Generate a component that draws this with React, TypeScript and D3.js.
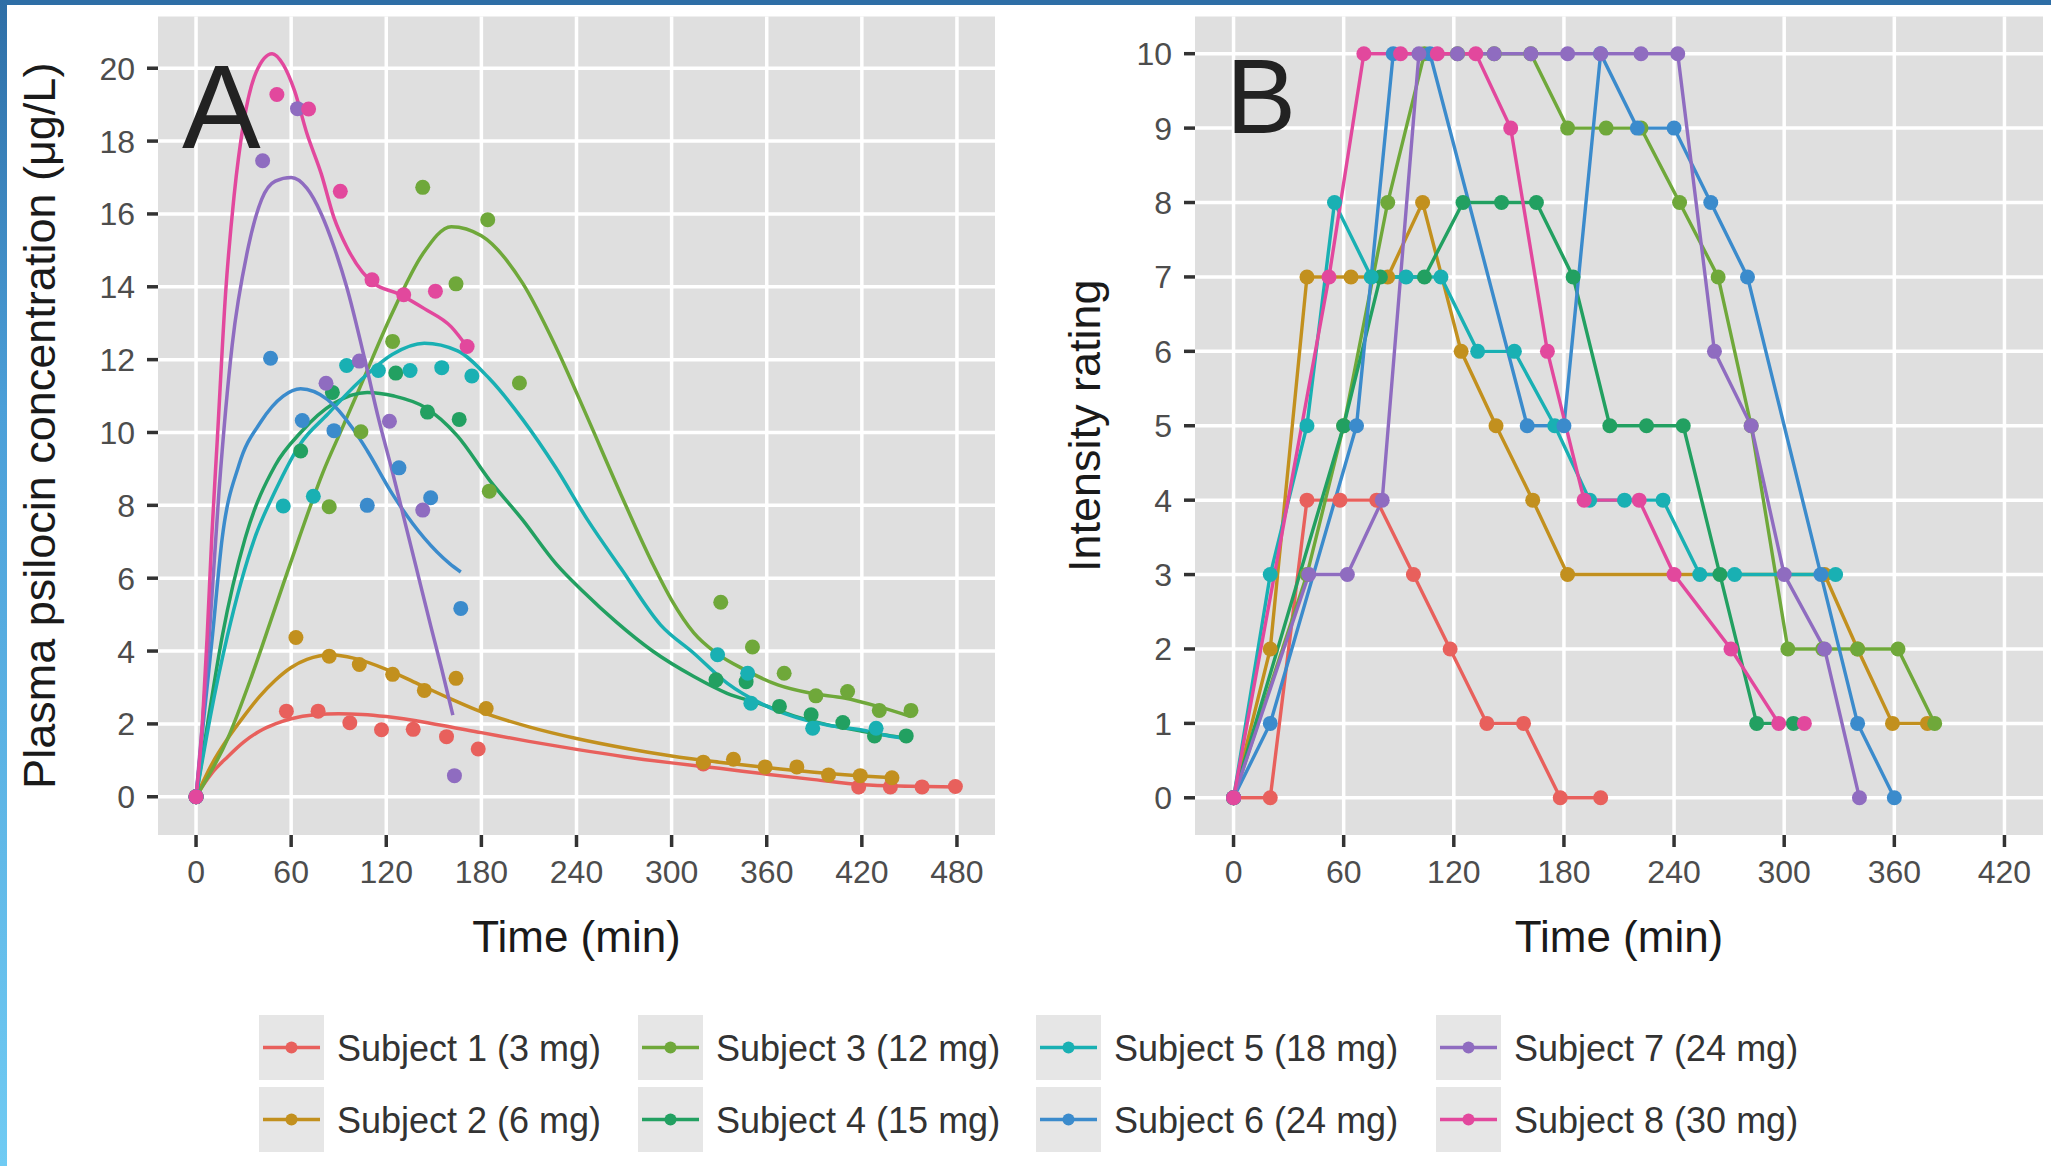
import * as d3 from 'd3'

const W = 2051
const H = 1166
const FONT = '"Liberation Sans", Arial, Helvetica, sans-serif'

type Pt = [number, number]

const subjects = [
  'Subject 1 (3 mg)', 'Subject 2 (6 mg)', 'Subject 3 (12 mg)', 'Subject 4 (15 mg)',
  'Subject 5 (18 mg)', 'Subject 6 (24 mg)', 'Subject 7 (24 mg)', 'Subject 8 (30 mg)',
]
const colors = ['#e8605c', '#c2901e', '#6fa83a', '#22a061', '#19b0b3', '#3b8bcc', '#8f6cc0', '#e2489d']

const xTicksA = [0, 60, 120, 180, 240, 300, 360, 420, 480]
const yTicksA = [0, 2, 4, 6, 8, 10, 12, 14, 16, 18, 20]
const xTicksB = [0, 60, 120, 180, 240, 300, 360, 420]
const yTicksB = [0, 1, 2, 3, 4, 5, 6, 7, 8, 9, 10]

// Panel A: measured plasma psilocin [min, µg/L]
const obs1: Pt[] = [[0, 0], [57, 2.35], [77, 2.35], [97, 2.03], [117, 1.84], [137, 1.85], [158, 1.65], [178, 1.31], [320, 0.9], [418, 0.27], [438, 0.27], [458, 0.27], [479, 0.28]]
const obs2: Pt[] = [[0, 0], [63, 4.37], [84, 3.86], [103, 3.63], [124, 3.36], [144, 2.92], [164, 3.25], [183, 2.42], [320, 0.95], [339, 1.03], [359, 0.82], [379, 0.82], [399, 0.6], [419, 0.58], [439, 0.52]]
const obs3: Pt[] = [[0, 0], [84, 7.96], [104, 10.02], [124, 12.5], [143, 16.73], [164, 14.08], [184, 15.84], [185, 8.39], [204, 11.36], [331, 5.34], [351, 4.11], [371, 3.39], [391, 2.77], [411, 2.89], [431, 2.37], [451, 2.37]]
const obs4: Pt[] = [[0, 0], [66, 9.49], [86, 11.1], [126, 11.63], [146, 10.56], [166, 10.36], [328, 3.21], [347, 3.16], [368, 2.48], [388, 2.25], [408, 2.04], [428, 1.67], [448, 1.67]]
const obs5: Pt[] = [[0, 0], [55, 7.98], [74, 8.25], [95, 11.84], [115, 11.7], [135, 11.7], [155, 11.78], [174, 11.55], [329, 3.9], [348, 3.39], [350, 2.57], [389, 1.88], [429, 1.88]]
const obs6: Pt[] = [[0, 0], [47, 12.04], [67, 10.33], [87, 10.05], [108, 8.0], [128, 9.03], [148, 8.21], [167, 5.17]]
const obs7: Pt[] = [[0, 0], [42, 17.46], [64, 18.89], [82, 11.35], [103, 11.96], [122, 10.31], [143, 7.87], [163, 0.58]]
const obs8: Pt[] = [[0, 0], [51, 19.28], [71, 18.88], [91, 16.62], [111, 14.19], [131, 13.78], [151, 13.88], [171, 12.36]]

// Panel A: fitted curves
const fit1: Pt[] = [[0, 0], [5, 0.35], [10, 0.65], [20, 1.1], [30, 1.5], [40, 1.8], [50, 2.0], [60, 2.14], [75, 2.25], [90, 2.28], [105, 2.26], [120, 2.2], [150, 2.0], [180, 1.76], [210, 1.52], [240, 1.3], [270, 1.1], [300, 0.93], [330, 0.78], [360, 0.62], [390, 0.47], [420, 0.33], [450, 0.29], [480, 0.27]]
const fit2: Pt[] = [[0, 0], [10, 0.9], [20, 1.6], [30, 2.2], [40, 2.75], [50, 3.2], [60, 3.55], [70, 3.77], [85, 3.9], [100, 3.8], [120, 3.5], [140, 3.1], [160, 2.7], [180, 2.33], [210, 1.92], [240, 1.6], [270, 1.34], [300, 1.12], [330, 0.95], [360, 0.8], [390, 0.67], [420, 0.57], [440, 0.52]]
const fit3: Pt[] = [[0, 0], [20, 1.6], [35, 3.3], [50, 5.2], [65, 7.1], [80, 8.9], [92, 10.1], [104, 11.3], [124, 13.3], [143, 14.9], [161, 15.65], [180, 15.4], [206, 14.1], [227, 12.35], [247, 10.4], [268, 8.3], [288, 6.4], [300, 5.4], [314, 4.5], [328, 3.95], [346, 3.49], [367, 3.07], [388, 2.84], [409, 2.71], [430, 2.48], [451, 2.2]]
const fit4: Pt[] = [[0, 0], [8, 2.2], [16.5, 4.4], [31, 7.1], [50, 9.1], [66, 10.0], [87, 10.8], [108, 11.1], [125, 11.0], [144, 10.7], [165, 9.9], [185, 8.7], [206, 7.6], [227, 6.4], [245, 5.6], [265, 4.8], [288, 4.0], [314, 3.3], [335, 2.84], [356, 2.55], [377, 2.22], [398, 1.98], [420, 1.8], [440, 1.66], [448, 1.6]]
const fit5: Pt[] = [[0, 0], [9, 2.2], [19.7, 4.4], [37, 7.1], [50, 8.4], [66, 9.7], [83, 10.5], [103, 11.4], [124, 12.15], [144, 12.45], [165, 12.24], [185, 11.48], [206, 10.36], [227, 9.03], [247, 7.6], [268, 6.27], [293, 4.72], [314, 3.94], [335, 3.12], [356, 2.57], [377, 2.2], [398, 1.97], [420, 1.83], [440, 1.65], [448, 1.6]]
const fit6: Pt[] = [[0, 0], [5, 2.2], [10.3, 4.4], [16.5, 7.1], [27, 9.1], [41, 10.3], [55, 11.0], [66, 11.2], [83, 10.9], [99, 10.1], [108, 9.5], [124, 8.3], [144, 7.1], [160, 6.4], [167, 6.17]]
const fit7: Pt[] = [[0, 0], [4, 2], [8.3, 4.4], [14.5, 8.4], [22.8, 12.4], [33, 15.1], [41.4, 16.4], [50, 16.9], [60, 17.0], [70, 16.7], [79, 16.0], [87, 15.1], [95, 14.0], [107, 11.9], [115, 10.4], [124, 8.9], [132, 7.5], [140, 6.1], [148, 4.7], [155, 3.5], [162, 2.24]]
const fit8: Pt[] = [[0, 0], [4, 2], [7, 4.4], [10, 7.2], [13.4, 9.8], [18.6, 13.8], [24, 16.5], [30, 18.5], [38, 19.9], [48, 20.4], [55, 20.1], [62, 19.4], [70, 18.2], [79, 17.1], [87, 15.9], [95, 15.1], [105, 14.4], [112, 14.1], [128, 13.8], [144, 13.4], [161, 12.9], [171, 12.35]]

// Panel B: intensity ratings [min, rating]
const rate1: Pt[] = [[0, 0], [20, 0], [40, 4], [58, 4], [78, 4], [98, 3], [118, 2], [138, 1], [158, 1], [178, 0], [200, 0]]
const rate2: Pt[] = [[0, 0], [20, 2], [40, 7], [64, 7], [84, 7], [103, 8], [124, 6], [143, 5], [163, 4], [182, 3], [322, 3], [340, 2], [359, 1], [378, 1]]
const rate3: Pt[] = [[0, 0], [40, 3], [60, 5], [84, 8], [104, 10], [122, 10], [142, 10], [162, 10], [182, 9], [203, 9], [222, 9], [243, 8], [264, 7], [282, 5], [302, 2], [321, 2], [340, 2], [362, 2], [382, 1]]
const rate4: Pt[] = [[0, 0], [60, 5], [80, 7], [104, 7], [125, 8], [146, 8], [165, 8], [185, 7], [205, 5], [225, 5], [245, 5], [265, 3], [285, 1], [305, 1]]
const rate5: Pt[] = [[0, 0], [20, 3], [40, 5], [55, 8], [75, 7], [94, 7], [113, 7], [133, 6], [153, 6], [175, 5], [194, 4], [213, 4], [234, 4], [254, 3], [273, 3], [328, 3]]
const rate6: Pt[] = [[0, 0], [20, 1], [67, 5], [87, 10], [107, 10], [160, 5], [180, 5], [200, 10], [220, 9], [240, 9], [260, 8], [280, 7], [320, 3], [340, 1], [360, 0]]
const rate7: Pt[] = [[0, 0], [41, 3], [62, 3], [81, 4], [101, 10], [122, 10], [142, 10], [162, 10], [182, 10], [200, 10], [222, 10], [242, 10], [262, 6], [282, 5], [300, 3], [322, 2], [341, 0]]
const rate8: Pt[] = [[0, 0], [52, 7], [71, 10], [91, 10], [111, 10], [132, 10], [151, 9], [171, 6], [191, 4], [221, 4], [240, 3], [271, 2], [297, 1], [311, 1]]

const observed = [obs1, obs2, obs3, obs4, obs5, obs6, obs7, obs8]
const fitted = [fit1, fit2, fit3, fit4, fit5, fit6, fit7, fit8]
const ratings = [rate1, rate2, rate3, rate4, rate5, rate6, rate7, rate8]

const PANEL_TOP = 16.5
const PANEL_BOTTOM = 835
const PANEL_BG = '#dfdfdf'
const TICK_COL = '#4d4d4d'

export default function App() {
  const xA = d3.scaleLinear().domain([-24, 504]).range([158, 995])
  const yA = d3.scaleLinear().domain([-1.05, 21.42]).range([PANEL_BOTTOM, PANEL_TOP])
  const xB = d3.scaleLinear().domain([-21, 441]).range([1195, 2043])
  const yB = d3.scaleLinear().domain([-0.5, 10.5]).range([PANEL_BOTTOM, PANEL_TOP])

  const fitLine = d3.line<Pt>().x(d => xA(d[0])).y(d => yA(d[1])).curve(d3.curveMonotoneX)
  const rateLine = d3.line<Pt>().x(d => xB(d[0])).y(d => yB(d[1]))

  const legendX = [259, 638, 1036, 1436]
  const legendY = [1015, 1087]
  const KEY = 65

  function panel(
    x: d3.ScaleLinear<number, number>, y: d3.ScaleLinear<number, number>,
    xt: number[], yt: number[],
  ) {
    const [x0, x1] = x.range()
    return (
      <g>
        <rect x={x0} y={PANEL_TOP} width={x1 - x0} height={PANEL_BOTTOM - PANEL_TOP} fill={PANEL_BG} />
        {yt.map(v => (
          <line key={'h' + v} x1={x0} x2={x1} y1={y(v)} y2={y(v)} stroke="#fff" strokeWidth={3.5} />
        ))}
        {xt.map(v => (
          <line key={'v' + v} x1={x(v)} x2={x(v)} y1={PANEL_TOP} y2={PANEL_BOTTOM} stroke="#fff" strokeWidth={3.5} />
        ))}
        {/* axes */}
        {yt.map(v => (
          <g key={'yt' + v}>
            <line x1={x0 - 11} x2={x0} y1={y(v)} y2={y(v)} stroke="#333" strokeWidth={3.5} />
            <text x={x0 - 23} y={y(v)} dy="0.36em" textAnchor="end"
              style={{ fontSize: 32, fill: TICK_COL, fontFamily: FONT }}>{v}</text>
          </g>
        ))}
        {xt.map(v => (
          <g key={'xt' + v}>
            <line x1={x(v)} x2={x(v)} y1={PANEL_BOTTOM} y2={PANEL_BOTTOM + 12} stroke="#333" strokeWidth={3.5} />
            <text x={x(v)} y={883} textAnchor="middle"
              style={{ fontSize: 32, fill: TICK_COL, fontFamily: FONT }}>{v}</text>
          </g>
        ))}
      </g>
    )
  }

  return (
    <div style={{ position: 'fixed', left: 0, top: 0, width: W, height: H, background: '#fff' }}>
      <svg width={W} height={H} style={{ display: 'block' }}>
        <defs>
          <linearGradient id="frame" x1="0" y1="0" x2="0" y2="1">
            <stop offset="0%" stopColor="#2e6ea6" />
            <stop offset="35%" stopColor="#4b9fd8" />
            <stop offset="100%" stopColor="#70cbf3" />
          </linearGradient>
        </defs>
        <rect width={W} height={H} fill="#fff" />

        {/* Panel A */}
        {panel(xA, yA, xTicksA, yTicksA)}
        {fitted.map((f, i) => (
          <path key={'f' + i} d={fitLine(f) ?? ''} fill="none" stroke={colors[i]} strokeWidth={3.5} />
        ))}
        {observed.map((o, i) => o.map((d, j) => (
          <circle key={'o' + i + '-' + j} cx={xA(d[0])} cy={yA(d[1])} r={7.5} fill={colors[i]} />
        )))}
        <text x={182} y={148} style={{ fontSize: 118, fill: '#222', fontFamily: FONT }}>A</text>
        <text x={(xA.range()[0] + xA.range()[1]) / 2} y={952} textAnchor="middle"
          style={{ fontSize: 44, fill: '#1a1a1a', fontFamily: FONT }}>Time (min)</text>
        <text transform={`translate(55,${(PANEL_TOP + PANEL_BOTTOM) / 2}) rotate(-90)`} textAnchor="middle"
          style={{ fontSize: 45, fill: '#1a1a1a', fontFamily: FONT }}>Plasma psilocin concentration (μg/L)</text>

        {/* Panel B */}
        {panel(xB, yB, xTicksB, yTicksB)}
        {ratings.map((r, i) => (
          <path key={'r' + i} d={rateLine(r) ?? ''} fill="none" stroke={colors[i]} strokeWidth={3.4} />
        ))}
        {ratings.map((r, i) => r.map((d, j) => (
          <circle key={'p' + i + '-' + j} cx={xB(d[0])} cy={yB(d[1])} r={7.5} fill={colors[i]} />
        )))}
        <text x={1226} y={133} style={{ fontSize: 105, fill: '#222', fontFamily: FONT }}>B</text>
        <text x={(xB.range()[0] + xB.range()[1]) / 2} y={952} textAnchor="middle"
          style={{ fontSize: 44, fill: '#1a1a1a', fontFamily: FONT }}>Time (min)</text>
        <text transform={`translate(1100,${(PANEL_TOP + PANEL_BOTTOM) / 2}) rotate(-90)`} textAnchor="middle"
          style={{ fontSize: 45, fill: '#1a1a1a', fontFamily: FONT }}>Intensity rating</text>

        {/* Legend: 4 columns x 2 rows, filled by column */}
        {subjects.map((s, i) => {
          const kx = legendX[Math.floor(i / 2)]
          const ky = legendY[i % 2]
          const cy = ky + KEY / 2
          return (
            <g key={'lg' + i}>
              <rect x={kx} y={ky} width={KEY} height={KEY} fill="#e6e6e6" />
              <line x1={kx + 4} x2={kx + KEY - 4} y1={cy} y2={cy} stroke={colors[i]} strokeWidth={3.4} />
              <circle cx={kx + KEY / 2} cy={cy} r={6} fill={colors[i]} />
              <text x={kx + 78} y={cy + 13} style={{ fontSize: 36, fill: '#333', fontFamily: FONT }}>{s}</text>
            </g>
          )
        })}

        {/* slide frame */}
        <rect x={0} y={0} width={W} height={5} fill="#2e6ea6" />
        <rect x={0} y={0} width={7} height={H} fill="url(#frame)" />
      </svg>
    </div>
  )
}
